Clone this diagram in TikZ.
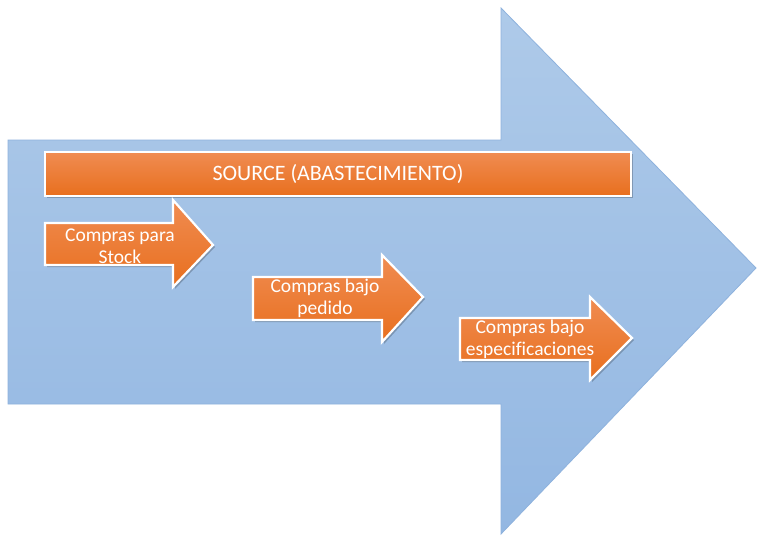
\documentclass[tikz,border=0pt]{standalone}
\usepackage{fontspec}
\setmainfont[Ligatures={NoCommon}]{Carlito}
\begin{document}
\begin{tikzpicture}[x=1pt,y=-1pt,
  bigarrow/.style={top color=bluetop,bottom color=bluebot,draw=blueedge,line width=0.8pt},
  orangeshape/.style={top color=orangetop,bottom color=orangebot,draw=white,line width=2.2pt,line join=miter},
  shade/.style={fill=black,opacity=0.22},
  label/.style={text=white,font=\fontsize{19.5}{22}\selectfont,align=center,inner sep=0pt},
  title/.style={text=white,font=\fontsize{22}{26}\selectfont,inner sep=0pt}]
\definecolor{bluetop}{HTML}{AECAE9}
\definecolor{bluebot}{HTML}{93B7E2}
\definecolor{blueedge}{HTML}{8EB2DD}
\definecolor{orangetop}{HTML}{F08C52}
\definecolor{orangebot}{HTML}{E86F1E}
\useasboundingbox (0,0) rectangle (757,535);
\fill[white] (0,0) rectangle (757,535);

% large background arrow
\path[bigarrow] (8,140) -- (501,140) -- (501,8) -- (756,268) -- (501,534) -- (501,404) -- (8,404) -- cycle;

% title bar
\fill[shade] (47,154) rectangle (633,198);
\path[orangeshape] (45,152) rectangle (631,196);
\node[title] (source) at (338,174) {SOURCE (ABASTECIMIENTO)};

% small arrows
\fill[shade] (47,225) -- (175,225) -- (175,202) -- (215,247) -- (175,289) -- (175,267) -- (47,267) -- cycle;
\path[orangeshape] (45,223) -- (173,223) -- (173,200) -- (213,245) -- (173,287) -- (173,265) -- (45,265) -- cycle;
\node[label] (stock) at (120,246) {Compras para\\Stock};

\fill[shade] (255,279) -- (384,279) -- (384,257) -- (425,299) -- (384,344) -- (384,322) -- (255,322) -- cycle;
\path[orangeshape] (253,277) -- (382,277) -- (382,255) -- (423,297) -- (382,342) -- (382,320) -- (253,320) -- cycle;
\node[label] (pedido) at (325,298) {Compras bajo\\pedido};

\fill[shade] (462,320) -- (592,320) -- (592,299) -- (634,340) -- (592,382) -- (592,362) -- (462,362) -- cycle;
\path[orangeshape] (460,318) -- (590,318) -- (590,297) -- (632,338) -- (590,380) -- (590,360) -- (460,360) -- cycle;
\node[label] (espec) at (530,339) {Compras bajo\\especificaciones};
\end{tikzpicture}
\end{document}
